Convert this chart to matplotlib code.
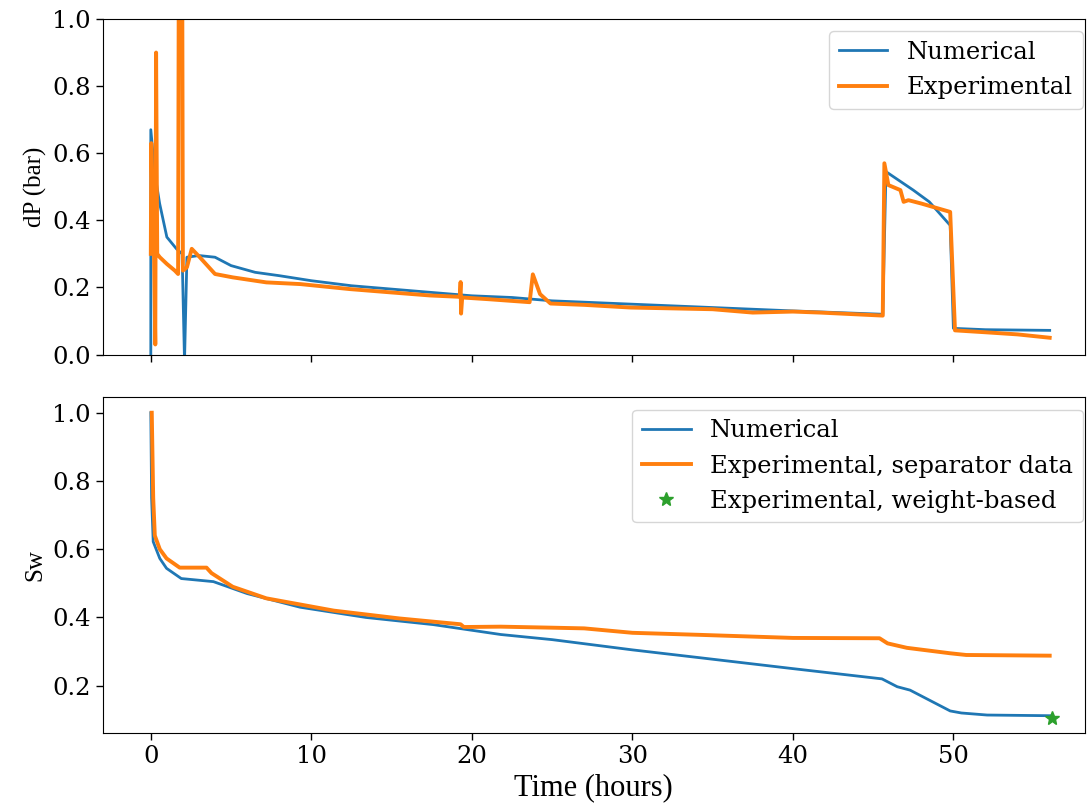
import matplotlib

matplotlib.use("Agg")
import matplotlib.pyplot as plt  # noqa: E402

plt.rcParams["font.family"] = "serif"
plt.rcParams["font.serif"] = ["DejaVu Serif"]

# --- pressure drop, numerical ---
t_dp_num = [0.0, 0.0, 0.25, 0.55, 1.0, 1.6, 1.95, 2.1, 2.25, 3.0, 4.0, 5.0,
            6.5, 8.0, 10.0, 12.5, 15.0, 17.5, 20.0, 22.5, 25.0, 30.0, 35.0,
            40.0, 45.6, 45.8, 47.5, 48.5, 49.8, 50.0, 52.0, 56.0]
dp_num = [0.0, 0.67, 0.54, 0.45, 0.35, 0.315, 0.30, -0.02, 0.29, 0.295, 0.29,
          0.265, 0.245, 0.235, 0.22, 0.205, 0.195, 0.185, 0.175, 0.17, 0.16,
          0.15, 0.14, 0.13, 0.12, 0.545, 0.49, 0.455, 0.385, 0.078, 0.074,
          0.072]

# --- pressure drop, experimental ---
t_dp_exp = [0.0, 0.03, 0.1, 0.2, 0.28, 0.33, 0.4, 0.56, 1.0, 1.5, 1.7, 1.75,
            1.95, 2.0, 2.25, 2.55, 3.05, 4.0, 5.1, 7.2, 9.3, 12.4, 15.0, 17.4,
            19.25, 19.3, 19.33, 19.4, 21.0, 23.6, 23.8, 24.25, 24.9, 27.0,
            29.9, 32.0, 35.0, 37.5, 40.0, 41.7, 45.6, 45.7, 45.95, 46.7, 46.9,
            47.2, 48.0, 49.8, 50.1, 52.1, 54.0, 56.0]
dp_exp = [0.30, 0.63, 0.45, 0.30, 0.03, 0.90, 0.30, 0.29, 0.27, 0.25, 0.24,
          1.3, 1.3, 0.25, 0.26, 0.315, 0.29, 0.24, 0.23, 0.215, 0.21, 0.195,
          0.185, 0.176, 0.172, 0.216, 0.122, 0.17, 0.165, 0.156, 0.239, 0.18,
          0.152, 0.148, 0.14, 0.138, 0.135, 0.125, 0.128, 0.125, 0.116, 0.57,
          0.505, 0.49, 0.455, 0.46, 0.45, 0.425, 0.072, 0.066, 0.06, 0.05]

# --- water saturation, numerical ---
t_sw_num = [0.0, 0.05, 0.15, 0.56, 0.98, 1.9, 3.9, 6.0, 9.3, 13.4, 17.6,
            21.8, 25.0, 30.0, 34.2, 40.0, 45.55, 46.5, 47.3, 49.8, 50.5, 52.1,
            56.1]
sw_num = [1.0, 0.75, 0.622, 0.573, 0.544, 0.514, 0.505, 0.47, 0.43, 0.40,
          0.379, 0.35, 0.335, 0.305, 0.282, 0.25, 0.22, 0.197, 0.187, 0.126,
          0.12, 0.114, 0.112]

# --- water saturation, experimental (separator) ---
t_sw_exp = [0.06, 0.15, 0.25, 0.56, 0.98, 1.8, 3.47, 3.78, 5.1, 7.2, 11.4,
            15.5, 19.3, 19.5, 21.8, 25.0, 27.0, 30.0, 34.2, 40.0, 45.4, 45.9,
            47.1, 49.8, 50.8, 56.0]
sw_exp = [1.0, 0.75, 0.64, 0.60, 0.573, 0.546, 0.546, 0.53, 0.49, 0.456,
          0.42, 0.397, 0.38, 0.372, 0.373, 0.37, 0.368, 0.355, 0.349, 0.34,
          0.339, 0.324, 0.311, 0.295, 0.29, 0.288]

# weight-based end point
t_weight = [56.15]
sw_weight = [0.106]

fig, (ax1, ax2) = plt.subplots(2, 1, sharex=True, figsize=(10.92, 8.08), dpi=100)
fig.subplots_adjust(left=0.094, right=0.9936, top=0.9765, bottom=0.0928,
                    hspace=0.128)

label_font = {"family": "Liberation Serif", "size": 18}
leg_kw = {"loc": "upper right", "fontsize": 17.5, "bbox_to_anchor": (1.01, 1.0)}

ax1.plot(t_dp_num, dp_num, color="C0", lw=2.0, label="Numerical")
ax1.plot(t_dp_exp, dp_exp, color="C1", lw=2.8, label="Experimental")
ax1.set_ylim(0, 1.0)
ax1.set_ylabel("dP (bar)", fontdict=label_font)
ax1.legend(**leg_kw)

ax2.plot(t_sw_num, sw_num, color="C0", lw=2.0, label="Numerical")
ax2.plot(t_sw_exp, sw_exp, color="C1", lw=2.8,
         label="Experimental, separator data")
ax2.plot(t_weight, sw_weight, "*", color="C2", ms=10,
         label="Experimental, weight-based")
ax2.set_ylabel("Sw", fontdict=label_font)
ax2.set_xlabel("Time (hours)", fontdict={"family": "Liberation Serif", "size": 22})
ax2.legend(**leg_kw)
ax2.set_xlim(-3.0, 58.2)

for ax in (ax1, ax2):
    ax.tick_params(labelsize=17.5, length=5, width=1)

fig.savefig("out.png", dpi=100)
